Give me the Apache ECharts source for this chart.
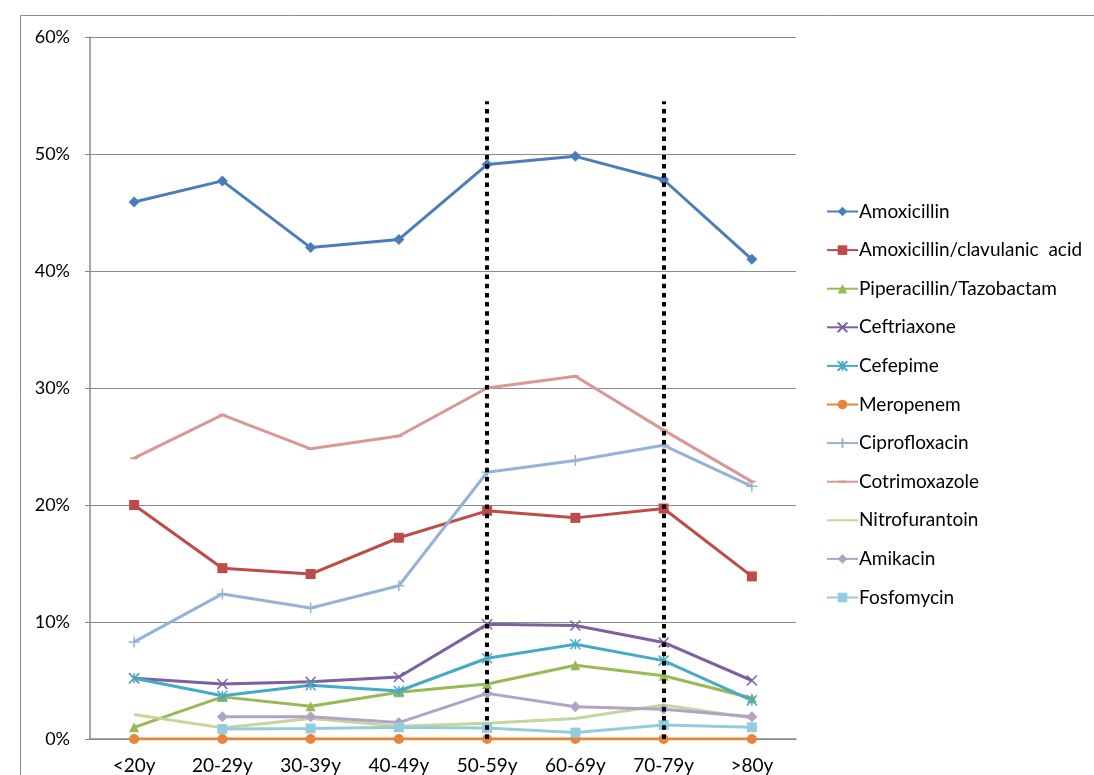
<!DOCTYPE html>
<html>
<head>
<meta charset="utf-8">
<title>Resistance by age group</title>
<script src="https://cdn.jsdelivr.net/npm/echarts@6/dist/echarts.min.js"></script>
<style>
  html, body { margin: 0; padding: 0; background: #fff; }
  #chart { width: 1094px; height: 775px; }
</style>
</head>
<body>
<div id="chart"></div>
<script>
// Age groups (x axis)
const ageGroups = ['<20y', '20-29y', '30-39y', '40-49y', '50-59y', '60-69y', '70-79y', '>80y'];

// Resistance rates (%) per antibiotic and age group
const amoxicillin    = [45.9, 47.7, 42.0, 42.7, 49.1, 49.8, 47.8, 41.0];
const amoxClav       = [20.0, 14.6, 14.1, 17.2, 19.5, 18.9, 19.7, 13.9];
const piperTazo      = [1.0, 3.6, 2.8, 4.0, 4.7, 6.3, 5.4, 3.5];
const ceftriaxone    = [5.2, 4.7, 4.9, 5.3, 9.8, 9.7, 8.25, 5.0];
const cefepime       = [5.2, 3.7, 4.6, 4.1, 6.9, 8.1, 6.7, 3.3];
const meropenem      = [0, 0, 0, 0, 0, 0, 0, 0];
const ciprofloxacin  = [8.3, 12.4, 11.2, 13.1, 22.8, 23.8, 25.1, 21.6];
const cotrimoxazole  = [24.0, 27.7, 24.8, 25.9, 30.0, 31.0, 26.4, 22.0];
const nitrofurantoin = [2.1, 0.95, 1.75, 1.1, 1.35, 1.75, 2.9, 1.8];
const amikacin       = [null, 1.9, 1.9, 1.4, 3.9, 2.75, 2.55, 1.9];
const fosfomycin     = [null, 0.85, 0.9, 1.0, 0.95, 0.55, 1.2, 1.0];

// Y axis ticks (%)
const yTicks = { min: 0, max: 60, interval: 10 };

// Age groups marked by dotted reference lines, and their height (%)
const markedGroups = ['50-59y', '70-79y'];
const markHeight = 54.5;

const FONT = 'Lato, "Liberation Sans", sans-serif';

// Stroked marker shapes
const SYM_X = 'path://M0,0L10,10M10,0L0,10';
const SYM_STAR = 'path://M5,0L5,10M0,0L10,10M10,0L0,10';
const SYM_PLUS = 'path://M5,0L5,10M0,5L10,5';
// Short horizontal dash inside a square box (the moves keep the box square)
const SYM_DASH = 'path://M0,0M10,10M1,3.8L9,3.8L9,6.2L1,6.2Z';
// No visible marker (also keeps the legend icon a plain line)
const SYM_NONE = 'path://M0,0M10,10M5,5L5.01,5L5.01,5.01Z';

function line(name, data, color, symbol, size, strokeSymbol) {
  return {
    name: name,
    type: 'line',
    data: data,
    symbol: symbol,
    symbolSize: size,
    lineStyle: { color: color, width: 3 },
    itemStyle: strokeSymbol
      ? { color: color, borderColor: color, borderWidth: 1.5 }
      : { color: color },
    emphasis: { disabled: true },
    animation: false
  };
}

const series = [
  line('Amoxicillin', amoxicillin, '#4A7EBB', 'diamond', 11),
  line('Amoxicillin/clavulanic  acid', amoxClav, '#BE4B48', 'rect', 10),
  line('Piperacillin/Tazobactam', piperTazo, '#98B954', 'triangle', 10),
  line('Ceftriaxone', ceftriaxone, '#7D60A0', SYM_X, 10, true),
  line('Cefepime', cefepime, '#46AAC5', SYM_STAR, 10, true),
  line('Meropenem', meropenem, '#E8853A', 'circle', 10),
  line('Ciprofloxacin', ciprofloxacin, '#95B3D7', SYM_PLUS, 11, true),
  line('Cotrimoxazole', cotrimoxazole, '#D99795', SYM_DASH, 9),
  line('Nitrofurantoin', nitrofurantoin, '#C3D69B', SYM_NONE, 10),
  line('Amikacin', amikacin, '#B3A2C7', 'diamond', 11),
  line('Fosfomycin', fosfomycin, '#93CDDD', 'rect', 10)
];

// Dotted vertical reference lines, drawn above the data
series.push({
  name: 'marks',
  type: 'line',
  data: [],
  silent: true,
  z: 10,
  markLine: {
    symbol: ['none', 'none'],
    silent: true,
    animation: false,
    label: { show: false },
    lineStyle: { color: '#000', width: 4, type: [4.5, 4.7] },
    data: markedGroups.map(g => [
      { coord: [g, 0] },
      { coord: [g, markHeight] }
    ])
  }
});

const chart = echarts.init(document.getElementById('chart'), null, { renderer: 'canvas' });
chart.setOption({
  backgroundColor: '#fff',
  animation: false,
  graphic: [{
    type: 'rect',
    shape: { x: 20.5, y: 15.5, width: 1200, height: 900 },
    style: { fill: 'none', stroke: '#8c8c8c', lineWidth: 1 },
    silent: true,
    z: -10
  }],
  grid: { left: 90, top: 37, right: 298, bottom: 35 },
  legend: {
    orient: 'vertical',
    left: 821,
    top: 197,
    itemWidth: 31,
    itemHeight: 12,
    itemGap: 19.6,
    data: series.filter(s => s.name !== 'marks').map(s => s.name),
    textStyle: { fontFamily: FONT, fontSize: 19, color: '#000', lineHeight: 18, padding: [0, 0, 0, -4] },
    selectedMode: false
  },
  xAxis: {
    type: 'category',
    data: ageGroups,
    boundaryGap: true,
    axisLine: { lineStyle: { color: '#888', width: 1.5 } },
    axisTick: { show: false },
    axisLabel: { fontFamily: FONT, fontSize: 19, color: '#000', margin: 17 },
    splitLine: { show: false }
  },
  yAxis: {
    type: 'value',
    min: yTicks.min,
    max: yTicks.max,
    interval: yTicks.interval,
    axisLine: { show: true, lineStyle: { color: '#888', width: 1.5 } },
    axisTick: { show: true, length: 5, lineStyle: { color: '#888' } },
    axisLabel: { fontFamily: FONT, fontSize: 18, color: '#000', margin: 20, formatter: v => v + '%' },
    splitLine: { lineStyle: { color: '#8c8c8c', width: 1.2 } }
  },
  series: series
});
</script>
</body>
</html>
